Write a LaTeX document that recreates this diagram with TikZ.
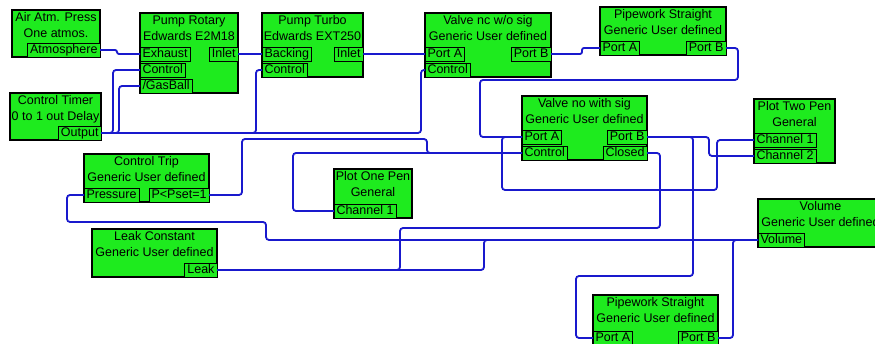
\documentclass[tikz,border=0pt]{standalone}
\usepackage{fontspec}
\newfontfamily\simfont{Liberation Sans}
\definecolor{simgreen}{RGB}{30,235,30}
\definecolor{wireblue}{RGB}{25,25,205}
\begin{document}
\begin{tikzpicture}[x=1pt, y=-1pt,
    block/.style={draw=black, line width=1.6pt, fill=simgreen, anchor=north west, inner sep=0pt, outer sep=0pt},
    title/.style={font=\simfont\fontsize{12.5}{16}\selectfont, align=center, anchor=base, inner sep=0pt},
    port/.style={draw=black, line width=0.8pt, fill=simgreen, minimum height=14pt, inner xsep=2.5pt, inner ysep=0pt, outer sep=0pt, text height=9.5pt, text depth=2.5pt, font=\simfont\fontsize{12.5}{16}\selectfont},
    lport/.style={port, anchor=north west},
    rport/.style={port, anchor=north east},
    wire/.style={draw=wireblue, line width=1.8pt, rounded corners=3pt}]
      \useasboundingbox (0,0) rectangle (875,344);
      \clip (0,0) rectangle (875,344);
      \fill[white] (0,0) rectangle (875,344);

      \node[block, minimum width=88pt, minimum height=47pt] (air) at (12,10) {};
      \node[title] (air-t) at (56,38) {Air Atm. Press\\One atmos.};
      \node[rport] (air-atm) at (100,43) {Atmosphere};

      \node[block, minimum width=98pt, minimum height=80pt] (rot) at (140,13) {};
      \node[title] (rot-t) at (189,41) {Pump Rotary\\Edwards E2M18};
      \node[lport] (rot-exh) at (140,47) {Exhaust};
      \node[rport] (rot-inl) at (238,47) {Inlet};
      \node[lport] (rot-ctl) at (140,63) {Control};
      \node[lport] (rot-gas) at (140,79) {/GasBall};

      \node[block, minimum width=91pt, minimum height=47pt] (timer) at (10,93) {};
      \node[title] (timer-t) at (55.5,121) {Control Timer\\0 to 1 out Delay};
      \node[rport] (timer-out) at (101,126) {Output};

      \node[block, minimum width=101pt, minimum height=64pt] (turbo) at (262,13) {};
      \node[title] (turbo-t) at (312.5,41) {Pump Turbo\\Edwards EXT250};
      \node[lport] (turbo-back) at (262,47) {Backing};
      \node[rport] (turbo-inl) at (363,47) {Inlet};
      \node[lport] (turbo-ctl) at (262,63) {Control};

      \node[block, minimum width=126pt, minimum height=64pt] (vnc) at (425,13) {};
      \node[title] (vnc-t) at (488,41) {Valve nc w/o sig\\Generic User defined};
      \node[lport] (vnc-pa) at (425,47) {Port A};
      \node[rport] (vnc-pb) at (551,47) {Port B};
      \node[lport] (vnc-ctl) at (425,63) {Control};

      \node[block, minimum width=126pt, minimum height=48pt] (pipe1) at (600,7) {};
      \node[title] (pipe1-t) at (663,35) {Pipework Straight\\Generic User defined};
      \node[lport] (pipe1-pa) at (600,41) {Port A};
      \node[rport] (pipe1-pb) at (726,41) {Port B};

      \node[block, minimum width=125pt, minimum height=64pt] (vno) at (522,96) {};
      \node[title] (vno-t) at (584.5,124) {Valve no with sig\\Generic User defined};
      \node[lport] (vno-pa) at (522,130) {Port A};
      \node[rport] (vno-pb) at (647,130) {Port B};
      \node[lport] (vno-ctl) at (522,146) {Control};
      \node[rport] (vno-cls) at (647,146) {Closed};

      \node[block, minimum width=81pt, minimum height=64pt] (plot2) at (754,99) {};
      \node[title] (plot2-t) at (794.5,127) {Plot Two Pen\\General};
      \node[lport] (plot2-ch1) at (754,133) {Channel 1};
      \node[lport] (plot2-ch2) at (754,149) {Channel 2};

      \node[block, minimum width=125pt, minimum height=48pt] (trip) at (84,154) {};
      \node[title] (trip-t) at (146.5,182) {Control Trip\\Generic User defined};
      \node[lport] (trip-press) at (84,188) {Pressure};
      \node[rport] (trip-pset) at (209,188) {P<Pset=1};

      \node[block, minimum width=78pt, minimum height=49pt] (plot1) at (334,169) {};
      \node[title] (plot1-t) at (373,197) {Plot One Pen\\General};
      \node[lport] (plot1-ch1) at (334,204) {Channel 1};

      \node[block, minimum width=125pt, minimum height=48pt] (leak) at (92,229) {};
      \node[title] (leak-t) at (154.5,257) {Leak Constant\\Generic User defined};
      \node[rport] (leak-leak) at (217,263) {Leak};

      \node[block, minimum width=125pt, minimum height=48pt] (vol) at (758,199) {};
      \node[title] (vol-t) at (820.5,227) {Volume\\Generic User defined};
      \node[lport] (vol-vol) at (758,233) {Volume};

      \node[block, minimum width=125pt, minimum height=50pt] (pipe2) at (593,295) {};
      \node[title] (pipe2-t) at (655.5,323) {Pipework Straight\\Generic User defined};
      \node[lport] (pipe2-pa) at (593,331) {Port A};
      \node[rport] (pipe2-pb) at (718,331) {Port B};

      \draw[wire, rounded corners=2pt] (air-atm.east) -- (117,50) -- (117,54) -- (rot-exh.west);
      \draw[wire] (rot-inl.east) -- (turbo-back.west);
      \draw[wire] (turbo-inl.east) -- (vnc-pa.west);
      \draw[wire] (timer-out.east) -- (113,133) |- (rot-ctl.west);
      \draw[wire] (timer-out.east) -- (119,133) |- (rot-gas.west);
      \draw[wire] (timer-out.east) -- (256,133) |- (turbo-ctl.west);
      \draw[wire] (timer-out.east) -- (421,133) |- (vnc-ctl.west);
      \draw[wire, rounded corners=2pt] (vnc-pb.east) -- (582,54) -- (582,48) -- (pipe1-pa.west);
      \draw[wire] (pipe1-pb.east) -- (738,48) -- (738,80) -- (480,80) |- (vno-pa.west);
      \draw[wire] (vno-pa.west) -- (502,137) -- (502,190) -- (717,190) |- (plot2-ch1.west);
      \draw[wire] (vno-pb.east) -- (709,137) |- (plot2-ch2.west);
      \draw[wire] (vno-pb.east) -- (693,137) -- (693,276) -- (576,276) |- (pipe2-pa.west);
      \draw[wire] (vno-cls.east) -- (660,153) -- (660,228) -- (400,228) |- (leak-leak.east);
      \draw[wire] (leak-leak.east) -- (484,270) |- (vol-vol.west);
      \draw[wire] (trip-press.west) -- (67,195) -- (67,222) -- (266,222) |- (vol-vol.west);
      \draw[wire] (pipe2-pb.east) -- (733,338) |- (vol-vol.west);
      \draw[wire] (trip-pset.east) -- (242,195) -- (242,139) -- (427,139) |- (vno-ctl.west);
      \draw[wire] (plot1-ch1.west) -- (293,211) |- (vno-ctl.west);
    \end{tikzpicture}
\end{document}
